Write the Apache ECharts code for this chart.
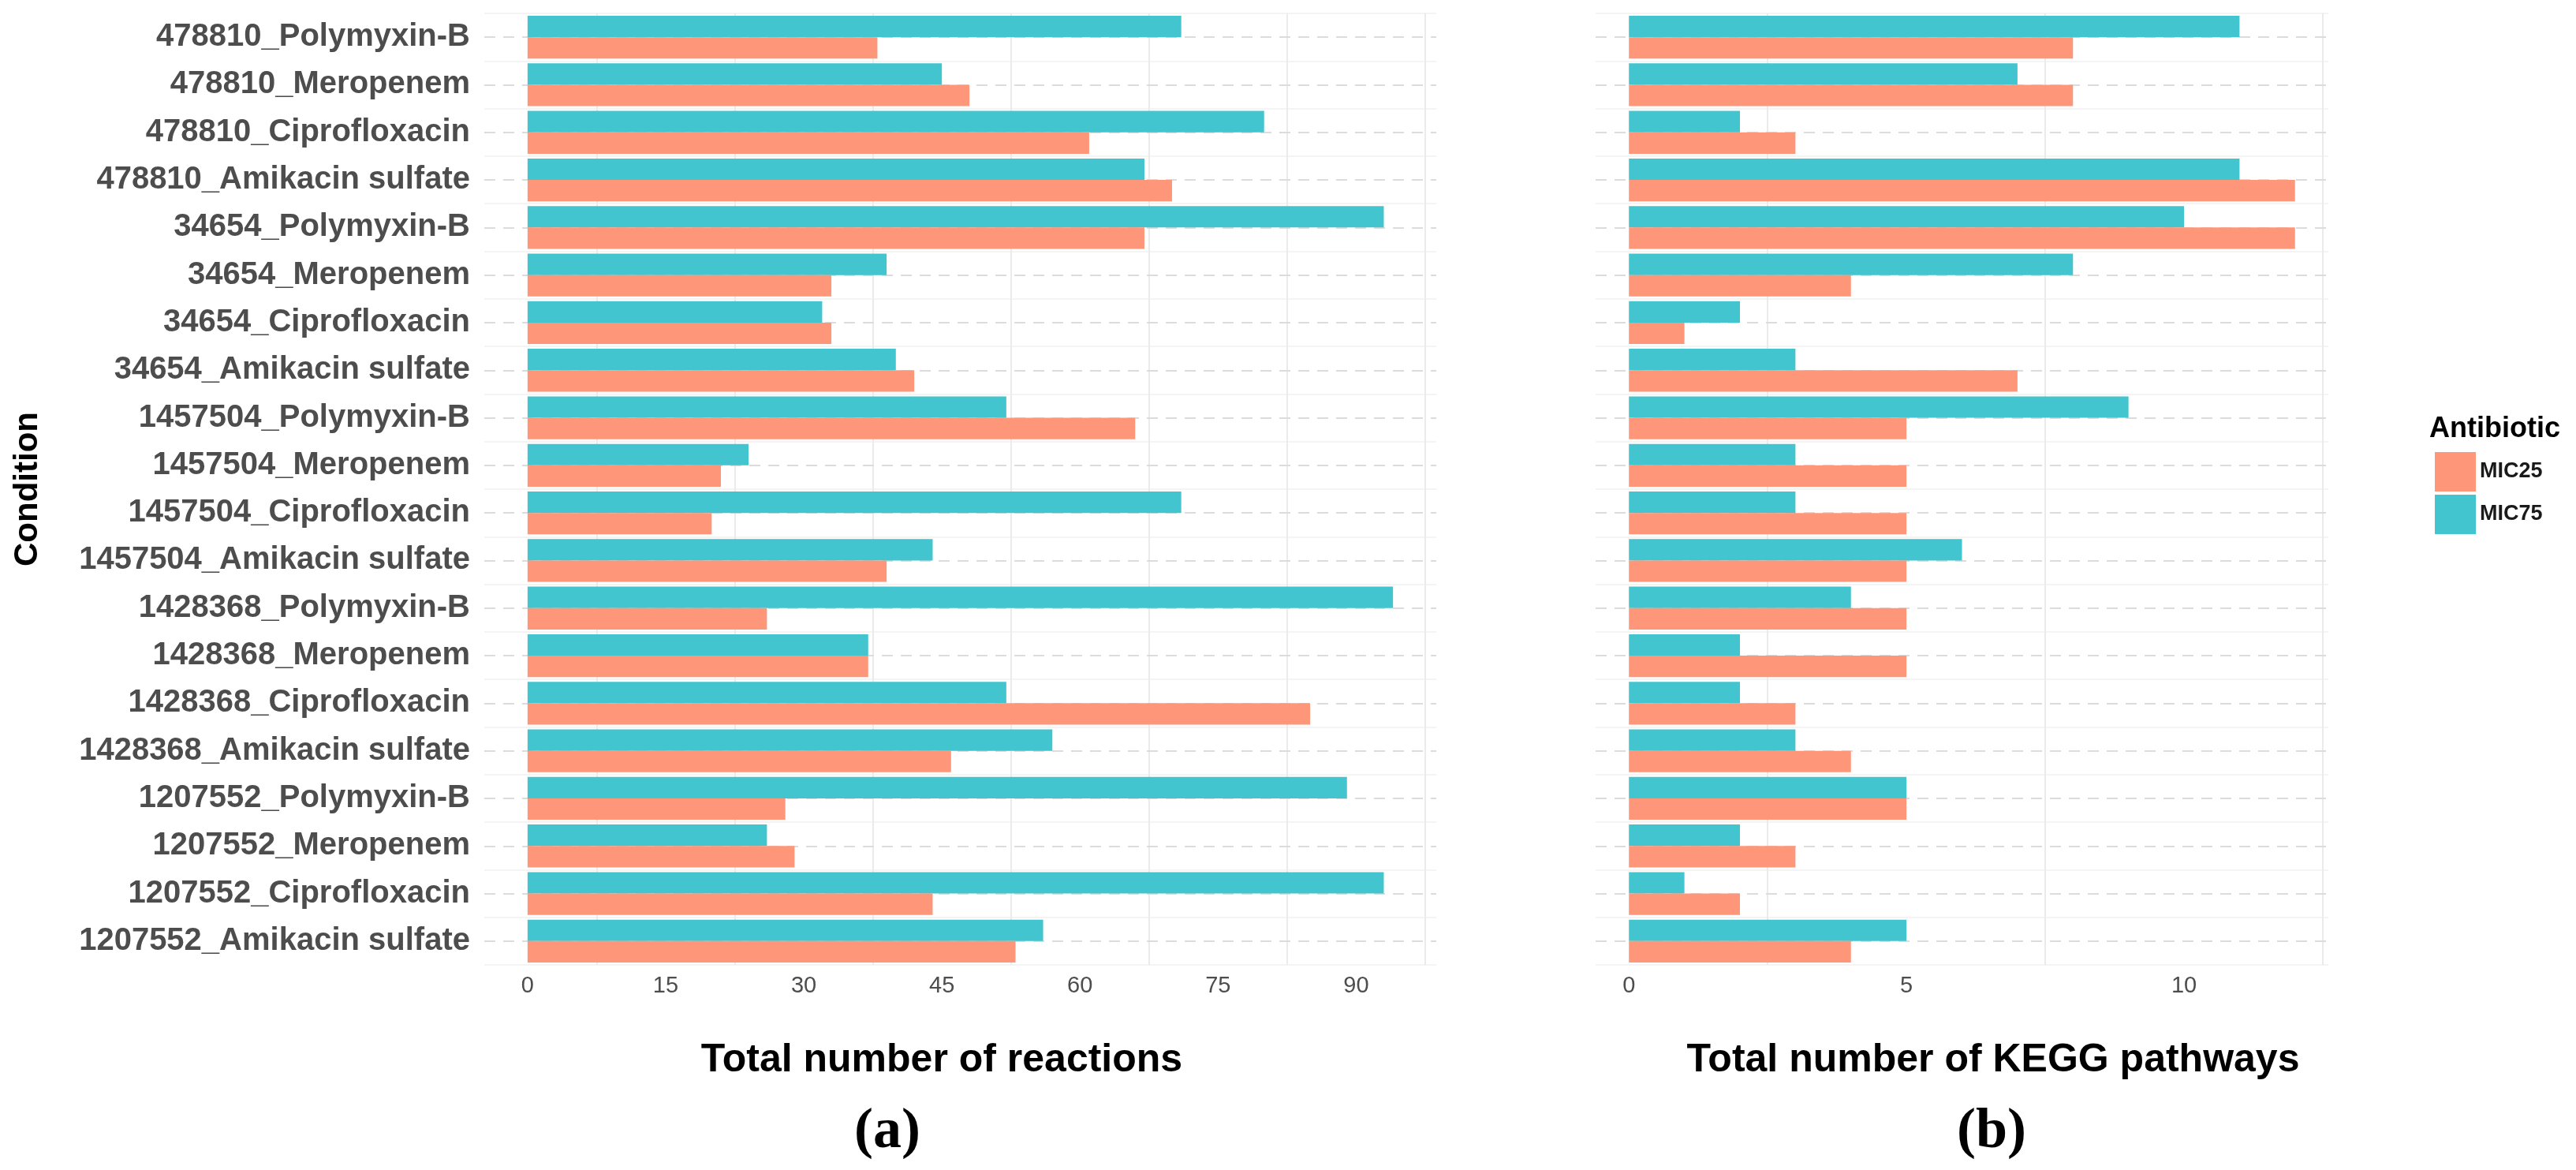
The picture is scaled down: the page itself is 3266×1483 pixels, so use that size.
<!DOCTYPE html>
<html>
<head>
<meta charset="utf-8">
<script src="https://cdn.jsdelivr.net/npm/echarts@6/dist/echarts.min.js"></script>
<style>
html,body{margin:0;padding:0;background:#fff;}
#main{width:3266px;height:1483px;}
</style>
</head>
<body>
<div id="main"></div>
<script>
const categories = ['478810_Polymyxin-B','478810_Meropenem','478810_Ciprofloxacin','478810_Amikacin sulfate',
  '34654_Polymyxin-B','34654_Meropenem','34654_Ciprofloxacin','34654_Amikacin sulfate',
  '1457504_Polymyxin-B','1457504_Meropenem','1457504_Ciprofloxacin','1457504_Amikacin sulfate',
  '1428368_Polymyxin-B','1428368_Meropenem','1428368_Ciprofloxacin','1428368_Amikacin sulfate',
  '1207552_Polymyxin-B','1207552_Meropenem','1207552_Ciprofloxacin','1207552_Amikacin sulfate'];
const reactionsMIC75 = [71,45,80,67,93,39,32,40,52,24,71,44,94,37,52,57,89,26,93,56];
const reactionsMIC25 = [38,48,61,70,67,33,33,42,66,21,20,39,26,37,85,46,28,29,44,53];
const keggMIC75 = [11,7,2,11,10,8,2,3,9,3,3,6,4,2,2,3,5,2,1,5];
const keggMIC25 = [8,8,3,12,12,4,1,7,5,5,5,5,5,5,3,4,5,3,2,4];
const reactionTicks = [0,15,30,45,60,75,90];
const reactionGrid = [7.5,22.5,37.5,52.5,67.5,82.5,97.5];
const keggTicks = [0,5,10];
const keggGrid = [2.5,7.5,12.5];

const COL25 = '#FE977A';
const COL75 = '#42C5CE';
const FONT = 'Liberation Sans, Arial, sans-serif';

function xAxisDef(gi, min, max, ticks){
  return {
    type:'value', gridIndex:gi, min:min, max:max,
    axisLine:{show:false}, axisTick:{show:false},
    splitLine:{show:false},
    axisLabel:{customValues:ticks, color:'#4d4d4d', fontSize:29, fontFamily:FONT, margin:12}
  };
}
function yAxisDef(gi, showLabels){
  return {
    type:'category', gridIndex:gi, data:categories, inverse:true,
    axisLine:{show:false}, axisTick:{show:false},
    splitLine:{show:true, lineStyle:{color:'#F4F4F4', width:2}},
    axisLabel:{show:showLabels, color:'#4d4d4d', fontSize:40, fontWeight:'bold', fontFamily:FONT, margin:18}
  };
}
function gridLines(gi, vals){
  const data = vals.map(v => ({xAxis:v}));
  categories.forEach(c => data.push({yAxis:c, lineStyle:{type:[14,10], color:'#DCDCDC', width:2}}));
  return {
    type:'line', xAxisIndex:gi, yAxisIndex:gi, data:[], z:0, silent:true,
    markLine:{silent:true, z:0, symbol:'none', label:{show:false}, animation:false,
      lineStyle:{type:'solid', color:'#EBEBEB', width:2}, data:data}
  };
}
function barSeries(name, gi, data, color){
  return {
    name:name, type:'bar', xAxisIndex:gi, yAxisIndex:gi, data:data, z:10,
    barGap:'0%', barCategoryGap:'10%',
    itemStyle:{color:color}
  };
}

const chart = echarts.init(document.getElementById('main'), null, {renderer:'canvas'});
chart.setOption({
  animation:false,
  backgroundColor:'#ffffff',
  grid:[
    {left:614, top:17, width:1207, height:1206},
    {left:2023, top:17, width:929, height:1206}
  ],
  xAxis:[ xAxisDef(0, -4.7, 98.7, reactionTicks), xAxisDef(1, -0.6, 12.6, keggTicks) ],
  yAxis:[ yAxisDef(0, true), yAxisDef(1, false) ],
  legend:{
    data:['MIC25','MIC75'], orient:'vertical', left:3082, top:568,
    itemWidth:52, itemHeight:50, itemGap:4, icon:'rect',
    textStyle:{fontSize:27, fontWeight:'bold', color:'#1a1a1a', fontFamily:FONT}
  },
  series:[
    gridLines(0, reactionGrid),
    gridLines(1, keggGrid),
    barSeries('MIC75', 0, reactionsMIC75, COL75),
    barSeries('MIC25', 0, reactionsMIC25, COL25),
    barSeries('MIC75', 1, keggMIC75, COL75),
    barSeries('MIC25', 1, keggMIC25, COL25)
  ],
  graphic:[
    {type:'text', left:3080, top:526, style:{text:'Antibiotic', fontSize:36, fontWeight:'bold', fill:'#000', fontFamily:FONT}},
    {type:'text', x:35, y:620, rotation:Math.PI/2, style:{text:'Condition', fontSize:42, fontWeight:'bold', fill:'#000', fontFamily:FONT, align:'center', verticalAlign:'middle'}},
    {type:'text', x:1194, y:1344, style:{text:'Total number of reactions', fontSize:50, fontWeight:'bold', fill:'#000', fontFamily:FONT, align:'center', verticalAlign:'middle'}},
    {type:'text', x:2527, y:1344, style:{text:'Total number of KEGG pathways', fontSize:50, fontWeight:'bold', fill:'#000', fontFamily:FONT, align:'center', verticalAlign:'middle'}},
    {type:'text', x:1125, y:1435, style:{text:'(a)', fontSize:72, fontWeight:'bold', fill:'#000', fontFamily:'Liberation Serif, Times New Roman, serif', align:'center', verticalAlign:'middle'}},
    {type:'text', x:2525, y:1435, style:{text:'(b)', fontSize:72, fontWeight:'bold', fill:'#000', fontFamily:'Liberation Serif, Times New Roman, serif', align:'center', verticalAlign:'middle'}}
  ]
});
</script>
</body>
</html>
